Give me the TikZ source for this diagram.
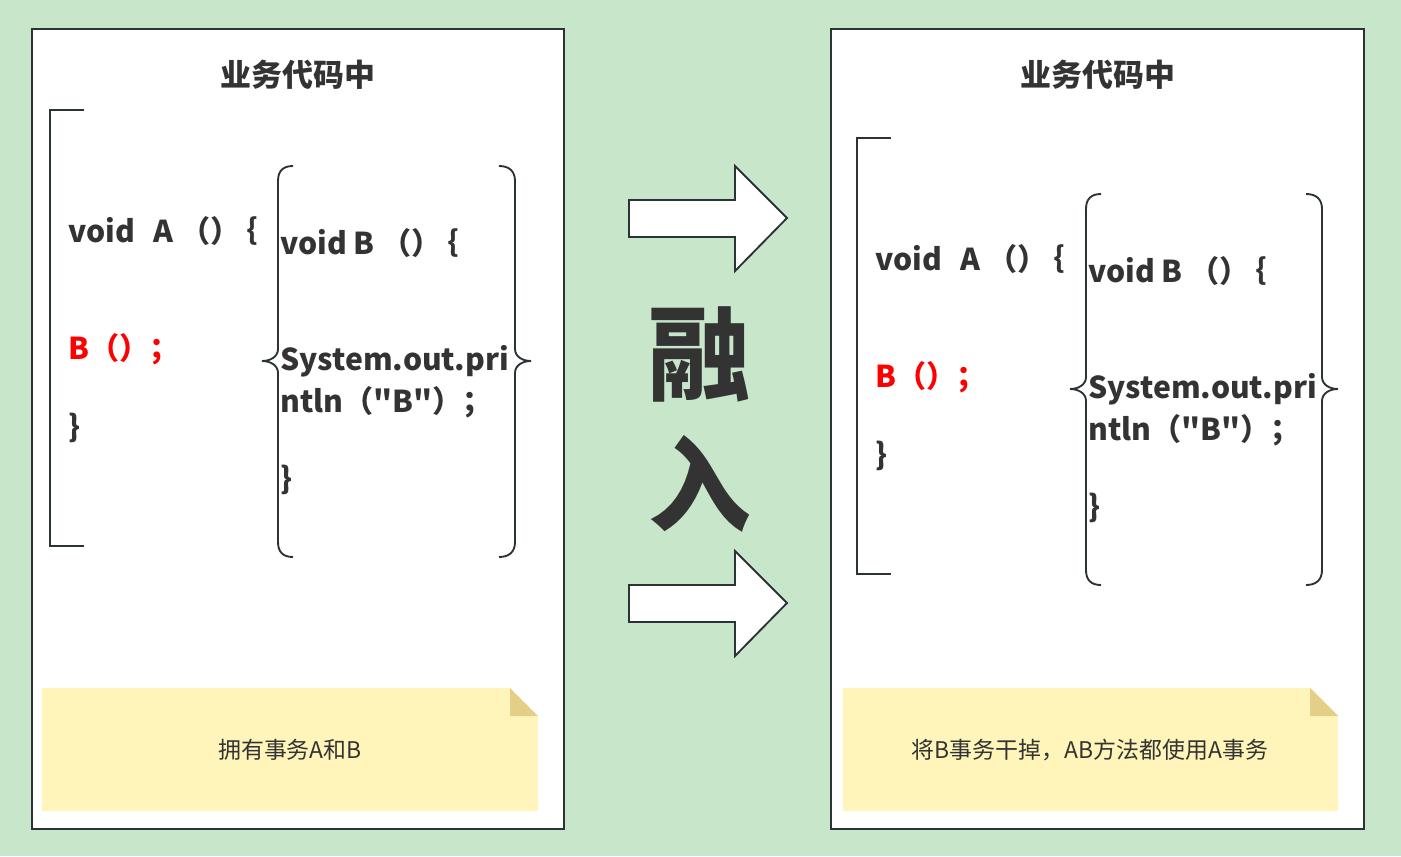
\documentclass[tikz,border=0pt]{standalone}
\usepackage{fontspec}
\setmainfont{Noto Sans CJK SC}[Ligatures=TeXOff]
\definecolor{bgc}{HTML}{C8E6C9}
\definecolor{ink}{HTML}{333333}
\definecolor{frame}{HTML}{2C3336}
\definecolor{note}{HTML}{FFF5BA}
\definecolor{fold}{HTML}{E4CF88}
\definecolor{redt}{HTML}{FF0000}
\newcommand{\lbr}{\hspace{-0.45em}｛}
\tikzset{
  panel/.style={draw=frame, fill=white, line width=1.7pt},
  titletext/.style={font=\fontsize{23.2}{26}\selectfont\bfseries, text=ink, inner sep=0pt},
  code/.style={font=\fontsize{22.6}{25}\selectfont\bfseries, text=ink, inner sep=0pt, anchor=west},
  redcode/.style={code, text=redt},
  bracketline/.style={draw=frame, line width=1.4pt},
  notebox/.style={fill=note, draw=none},
  foldtri/.style={fill=fold, draw=none},
  notetext/.style={font=\fontsize{17.2}{20}\selectfont, text=ink, inner sep=0pt},
  bigchar/.style={font=\fontsize{77}{80}\selectfont\bfseries, text=ink, inner sep=0pt},
  fatarrow/.style={draw=frame, fill=white, line width=1.4pt, line join=miter}
}
\begin{document}
\begin{tikzpicture}[x=0.75pt,y=-0.75pt]
\fill[bgc] (0,0) rectangle (1401,856);
\useasboundingbox (0,0) rectangle (1401,856);

% ---------- left panel ----------
\draw[panel] (32,29) rectangle (564,829);
\node[titletext] (t1) at (298,75) {业务代码中};
\draw[bracketline] (84,110) -- (50,110) -- (50,546) -- (84,546);
% brace group
\draw[bracketline] (293,166) .. controls (283,166) and (278,171) .. (278,181) -- (278,349)
  .. controls (278,357) and (270,361) .. (262,361) .. controls (270,361) and (278,365) .. (278,373)
  -- (278,542) .. controls (278,552) and (283,557) .. (293,557);
\draw[bracketline] (499,166) .. controls (509,166) and (515,171) .. (515,181) -- (515,349)
  .. controls (515,357) and (523,361) .. (531,361) .. controls (523,361) and (515,365) .. (515,373)
  -- (515,542) .. controls (515,552) and (509,557) .. (499,557);
\node[code] (a1) at (68,231) {void\ \ \,A （）\lbr};
\node[redcode] (a2) at (68,349) {B（）；};
\node[code] (a3) at (68,428) {\}};
\node[code] (b1) at (280,243) {void B （）\lbr};
\node[code] (b2) at (280,361) {System.out.pri};
\node[code] (b3) at (280,402) {ntln（"B"）；};
\node[code] (b4) at (280,480) {\}};
% note
\fill[notebox] (42,688) -- (510,688) -- (538,716) -- (538,811) -- (42,811) -- cycle;
\fill[foldtri] (510,688) -- (538,716) -- (510,716) -- cycle;
\node[notetext] (n1) at (290,750) {拥有事务A和B};

% ---------- arrows and middle ----------
\draw[fatarrow] (629,200) -- (735,200) -- (735,166) -- (787,218) -- (735,271) -- (735,237) -- (629,237) -- cycle;
\draw[fatarrow] (629,585) -- (735,585) -- (735,551) -- (787,603) -- (735,656) -- (735,622) -- (629,622) -- cycle;
\node[bigchar] (r1) at (700,354) {融};
\node[bigchar] (r2) at (700,484) {入};

% ---------- right panel ----------
\draw[panel] (831,29) rectangle (1364,829);
\node[titletext] (t2) at (1098,75) {业务代码中};
\draw[bracketline] (891,138) -- (857,138) -- (857,574) -- (891,574);
\draw[bracketline] (1101,194) .. controls (1091,194) and (1086,199) .. (1086,209) -- (1086,377)
  .. controls (1086,385) and (1078,389) .. (1070,389) .. controls (1078,389) and (1086,393) .. (1086,401)
  -- (1086,570) .. controls (1086,580) and (1091,585) .. (1101,585);
\draw[bracketline] (1306,194) .. controls (1316,194) and (1322,199) .. (1322,209) -- (1322,377)
  .. controls (1322,385) and (1330,389) .. (1338,389) .. controls (1330,389) and (1322,393) .. (1322,401)
  -- (1322,570) .. controls (1322,580) and (1316,585) .. (1306,585);
\node[code] (c1) at (875,259) {void\ \ \,A （）\lbr};
\node[redcode] (c2) at (875,377) {B（）；};
\node[code] (c3) at (875,456) {\}};
\node[code] (d1) at (1088,271) {void B （）\lbr};
\node[code] (d2) at (1088,389) {System.out.pri};
\node[code] (d3) at (1088,430) {ntln（"B"）；};
\node[code] (d4) at (1088,508) {\}};
\fill[notebox] (843,688) -- (1310,688) -- (1338,716) -- (1338,811) -- (843,811) -- cycle;
\fill[foldtri] (1310,688) -- (1338,716) -- (1310,716) -- cycle;
\node[notetext] (n2) at (1090,750) {将B事务干掉，AB方法都使用A事务};
\end{tikzpicture}
\end{document}
